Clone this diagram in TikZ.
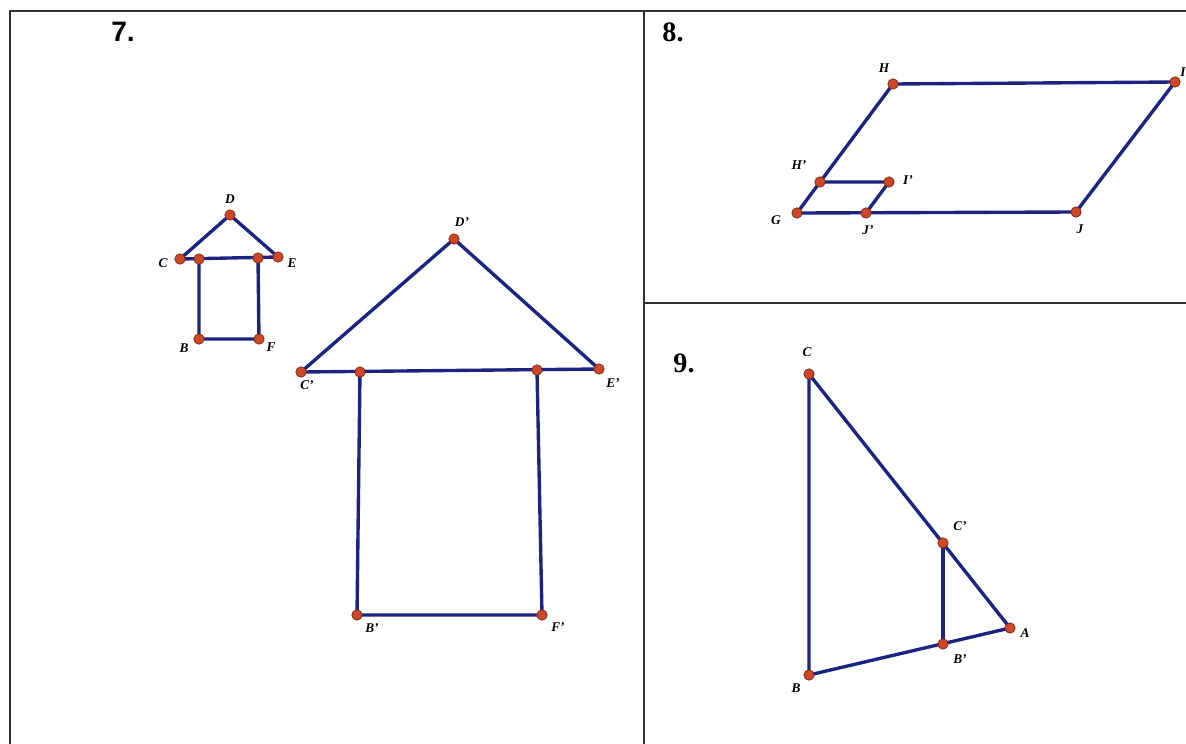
\documentclass[tikz,border=0pt]{standalone}
\usepackage{fontspec}
\setmainfont{Liberation Serif}
\newfontfamily\panelsans{Liberation Sans}[BoldFont={Liberation Sans Bold}]
\usetikzlibrary{backgrounds}

\definecolor{segblue}{RGB}{28,36,130}
\definecolor{ptred}{RGB}{205,72,40}
\definecolor{ptedge}{RGB}{120,40,20}
\definecolor{framegray}{RGB}{50,50,50}

\tikzset{
  frame/.style={draw=framegray, line width=1.5pt},
  seg/.style={draw=segblue, line width=2.4pt, line cap=round},
  pt/.style={circle, fill=ptred, draw=ptedge, line width=0.5pt, minimum size=0.26cm, inner sep=0pt},
  lbl/.style={font=\fontsize{9.5}{9.5}\selectfont\bfseries\itshape, inner sep=0pt},
  nr/.style={font=\fontsize{20}{20}\selectfont\bfseries, inner sep=0pt},
  nrsans/.style={font=\panelsans\bfseries\fontsize{20}{20}\selectfont, inner sep=0pt},
}

\begin{document}
\begin{tikzpicture}[x=0.025cm, y=-0.025cm] % Pixelmaße, y nach unten
\useasboundingbox (0,0) rectangle (1186,744);

% Rahmen
\draw[frame] (10,760) -- (10,11) -- (1200,11);
\draw[frame] (644,11) -- (644,760);
\draw[frame] (644,303) -- (1200,303);

% Nummern
\node[nrsans] (n7) at (123,32) {7.};
\node[nr] (n8) at (673,32) {8.};
\node[nr] (n9) at (684,363) {9.};

% 7: kleines Haus
\foreach \n/\x/\y in {D/230/215, C/180/259, W1/199/259, W2/258/258, E/278/257, B/199/339, F/259/339}{
  \node[pt] (s\n) at (\x,\y) {};
}
% 7: großes Haus
\foreach \n/\x/\y in {D/454/239, C/301/372, W1/360/372, W2/537/370, E/599/369, B/357/615, F/542/615}{
  \node[pt] (l\n) at (\x,\y) {};
}
% 8: Parallelogramme
\foreach \n/\x/\y in {H/893/84, I/1175/82, G/797/213, J/1076/212, Hp/820/182, Ip/889/182, Jp/866/213}{
  \node[pt] (p\n) at (\x,\y) {};
}
% 9: Dreiecke
\foreach \n/\x/\y in {C/809/374, B/809/675, A/1010/628, Cp/943/543, Bp/943/644}{
  \node[pt] (t\n) at (\x,\y) {};
}

% Strecken (hinter den Punkten)
\begin{scope}[on background layer]
\foreach \h in {s,l}{
  \draw[seg] (\h C.center) -- (\h E.center);
  \draw[seg] (\h C.center) -- (\h D.center) -- (\h E.center);
  \draw[seg] (\h W1.center) -- (\h B.center) -- (\h F.center) -- (\h W2.center);
}
\draw[seg] (pG.center) -- (pH.center) -- (pI.center) -- (pJ.center) -- cycle;
\draw[seg] (pHp.center) -- (pIp.center) -- (pJp.center);
\draw[seg] (tC.center) -- (tB.center) -- (tA.center) -- cycle;
\draw[seg] (tCp.center) -- (tBp.center);
\end{scope}

% Beschriftungen
\foreach \n/\x/\y/\t in {sD/230/199/D, sC/163/263/C, sE/292/263/E, sB/184/348/B, sF/271/347/F,
  lD/462/222/D’, lC/307/385/C’, lE/613/383/E’, lB/372/628/B’, lF/558/627/F’,
  pH/884/68/H, pI/1183/72/I, pHp/799/165/H’, pIp/908/180/I’, pG/776/220/G, pJp/868/230/J’, pJ/1080/229/J,
  tC/807/352/C, tCp/960/526/C’, tA/1025/633/A, tBp/960/659/B’, tB/796/688/B}{
  \node[lbl] (lab\n) at (\x,\y) {\t};
}

\end{tikzpicture}
\end{document}
